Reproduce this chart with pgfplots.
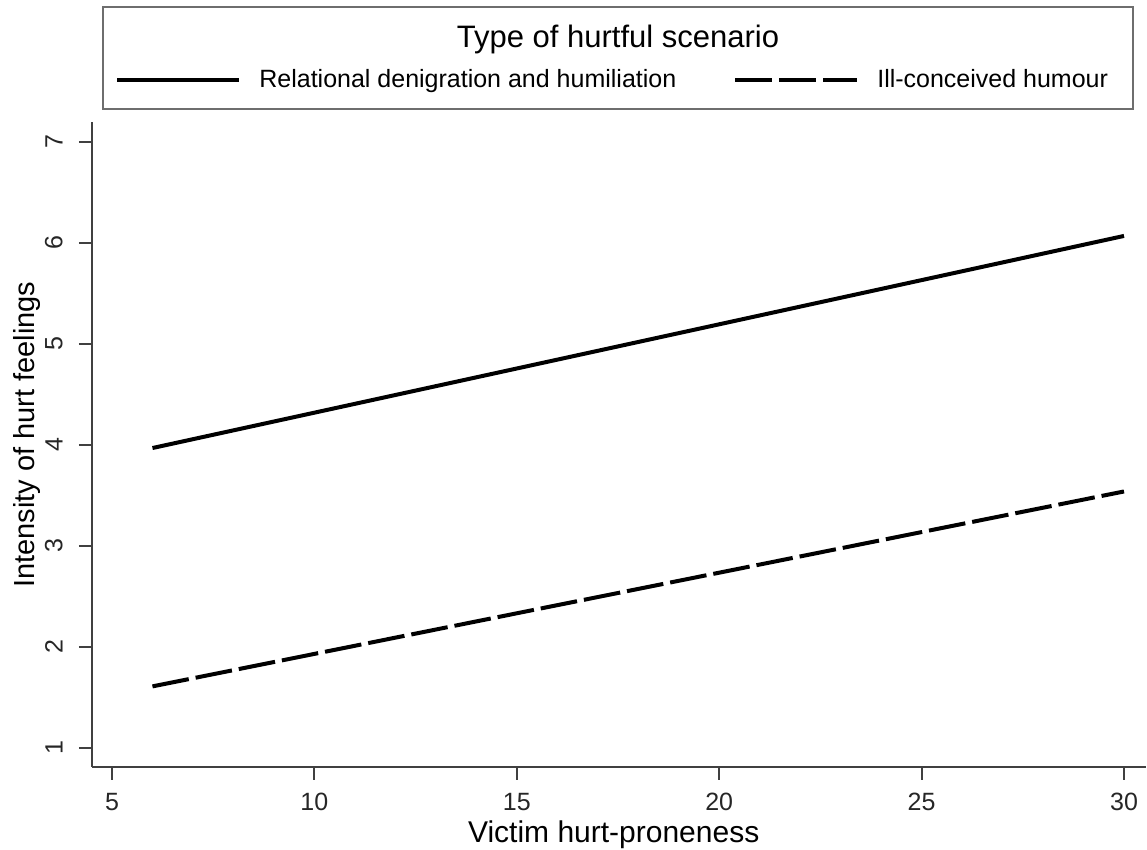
\documentclass[border=0pt]{standalone}
\usepackage{fontspec}
\setmainfont{Liberation Sans}
\usepackage{pgfplots}
\pgfplotsset{compat=1.18}
\definecolor{axisgray}{HTML}{404040}
\definecolor{boxgray}{HTML}{6E6E6E}
\begin{document}
\begin{tikzpicture}
% canvas = 1147 x 850 px at 0.5pt per px, origin at the axis corner
\path[use as bounding box] (-46pt,-41.5pt) rectangle (527.5pt,383.5pt);
\begin{axis}[
  scale only axis, width=527pt, height=322.5pt,
  xmin=4.506, xmax=30.543, ymin=0.812, ymax=7.198,
  axis x line*=bottom, axis y line*=left,
  axis line style={axisgray, line width=1pt},
  xtick={5,10,...,30}, ytick={1,...,7},
  tick align=outside,
  major tick length=6.5pt,
  tick style={axisgray, line width=1pt},
  /pgf/number format/assume math mode=true,
  ticklabel style={font=\fontsize{12.5}{13}\selectfont, text=black!85},
  yticklabel style={rotate=90, anchor=south, inner sep=0pt},
  yticklabel shift=8pt,
  xticklabel style={anchor=north, inner sep=0pt},
  xticklabel shift=6.5pt,
  xlabel={Victim hurt-proneness},
  ylabel={Intensity of hurt feelings},
  every axis x label/.style={at={(axis description cs:0.495,0)}, anchor=base,
    yshift=-38pt, font=\fontsize{15}{18}\selectfont},
  every axis y label/.style={at={(axis description cs:0,0.515)}, xshift=-28.5pt,
    rotate=90, anchor=base, font=\fontsize{14.5}{18}\selectfont},
  legend columns=2,
  legend style={draw=none, fill=none, inner sep=0pt,
    at={(axis description cs:0.0218,1.065)}, anchor=west,
    font=\fontsize{12.5}{15}\selectfont,
    nodes={inner sep=0pt},
    column sep=9pt,
    /tikz/every even column/.append style={column sep=28.5pt}},
  legend image code/.code={\draw[#1] (0pt,0pt) -- (61pt,0pt);},
  clip=false,
]
\addplot[black, line width=2pt] coordinates {(6,3.97) (30,6.07)};
\addlegendentry{Relational denigration and humiliation}
\addplot[black, line width=2pt, dash pattern=on 18.5pt off 3.5pt] coordinates {(6,1.61) (30,3.54)};
\addlegendentry{Ill-conceived humour}
\end{axis}
\draw[boxgray, line width=1.2pt] (5.5pt,329pt) rectangle (520.5pt,380pt);
\node[anchor=base, font=\fontsize{15.5}{18}\selectfont] at (263pt,359.5pt) {Type of hurtful scenario};
\end{tikzpicture}
\end{document}
